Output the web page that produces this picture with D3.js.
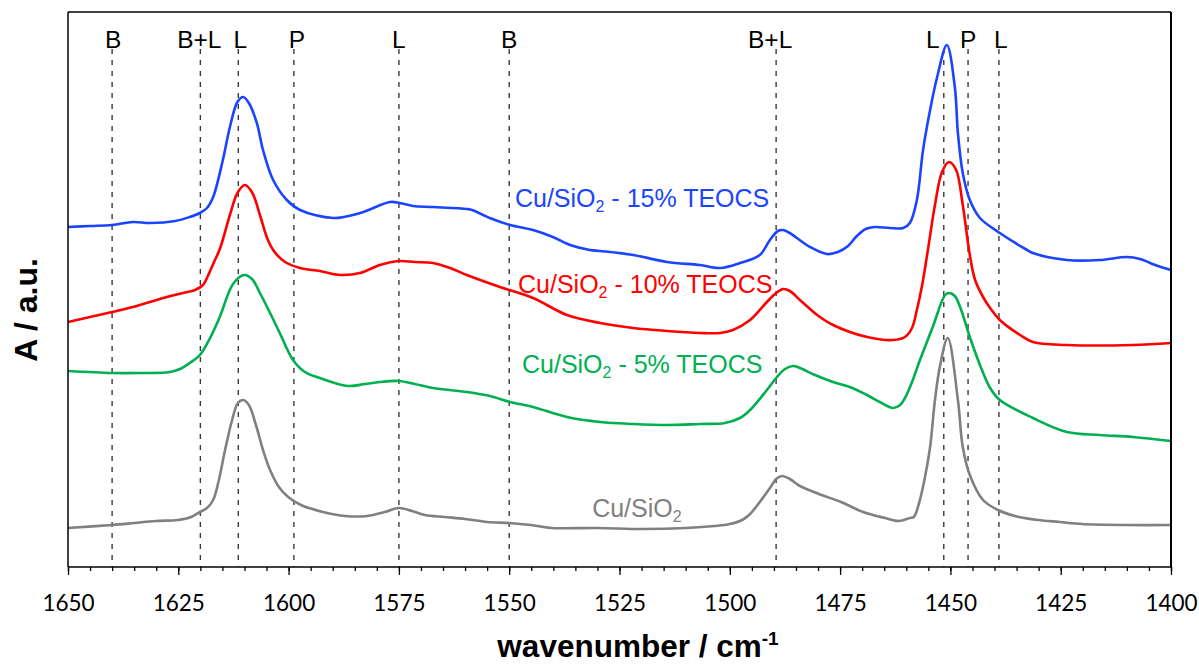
<!DOCTYPE html>
<html><head><meta charset="utf-8">
<script src="https://cdn.jsdelivr.net/npm/d3@7"></script>
<style>body{margin:0;background:#fff}svg{display:block}</style>
</head><body>
<svg id="chart" width="1199" height="666"></svg>
<script>
// ---------------- data ----------------
const seriesNames = ["Cu/SiO2 - 15% TEOCS", "Cu/SiO2 - 10% TEOCS", "Cu/SiO2 - 5% TEOCS", "Cu/SiO2"];
const labelSuffix = [" - 15% TEOCS", " - 10% TEOCS", " - 5% TEOCS", ""];

const blueWave = [1650,1645,1640,1635.3,1631.4,1625.7,1622.4,1620.1,1618.5,1617.1,1614.9,1613.3,1611.6,1610.3,1609,1607.2,1605.8,1603.5,1600.4,1597.4,1589.9,1583.8,1577,1574.8,1571.8,1567.3,1559.6,1558.4,1554.4,1549.8,1544.6,1540.1,1536.2,1531.7,1529.4,1521.9,1514.2,1506.8,1502.2,1497.7,1493.2,1490.9,1489.1,1487.9,1486.4,1484.8,1481.8,1478,1475.5,1473.2,1471.2,1469.2,1467.1,1463.7,1460.7,1459.2,1457.6,1456.2,1454.6,1453,1450.8,1449,1448.3,1447.2,1445.6,1443.3,1438.8,1432.6,1431.3,1423.6,1416.1,1410,1407,1403.6,1400];
const blueAbs = [3.40,3.41,3.42,3.45,3.44,3.46,3.50,3.54,3.59,3.70,4.07,4.40,4.65,4.70,4.64,4.44,4.17,3.87,3.67,3.57,3.49,3.54,3.65,3.64,3.61,3.60,3.58,3.57,3.49,3.42,3.37,3.30,3.22,3.17,3.16,3.12,3.05,3.02,2.99,3.04,3.12,3.27,3.36,3.37,3.34,3.29,3.20,3.13,3.15,3.21,3.31,3.38,3.40,3.39,3.39,3.44,3.67,4.17,4.57,4.90,5.22,4.80,4.34,3.94,3.67,3.49,3.34,3.17,3.14,3.07,3.07,3.10,3.08,3.02,2.97];

const redWave = [1650,1640,1635.3,1627.6,1623.9,1621.2,1619.4,1618.3,1616.9,1615.5,1613.3,1611.6,1609.9,1608.2,1606.5,1604.7,1603.5,1602.6,1600.8,1597.4,1592.9,1588.3,1583.8,1579.3,1575,1571.4,1567.3,1563.4,1559.6,1552.1,1544.6,1536.9,1529.4,1521.9,1514.2,1506.8,1502.2,1499.3,1495.4,1491.6,1489.5,1487.9,1486.4,1484.1,1480.2,1476.6,1468.9,1463,1460.3,1458.7,1457.6,1456.4,1455.1,1453.5,1451.9,1450.3,1448.7,1447.2,1445.6,1444.4,1442.6,1441,1438.8,1434.2,1431.3,1423.6,1408.6,1400];
const redAbs = [2.45,2.55,2.60,2.70,2.74,2.77,2.82,2.91,3.05,3.19,3.52,3.74,3.82,3.74,3.52,3.27,3.17,3.12,3.05,2.99,2.96,2.92,2.94,3.02,3.06,3.05,3.04,2.99,2.92,2.80,2.69,2.52,2.44,2.39,2.36,2.34,2.34,2.37,2.47,2.65,2.74,2.78,2.76,2.67,2.52,2.42,2.30,2.27,2.30,2.39,2.57,2.82,3.17,3.62,3.95,4.05,3.97,3.62,3.12,2.87,2.70,2.59,2.47,2.32,2.25,2.22,2.22,2.24];

const greenWave = [1650,1640,1633.7,1626.9,1624.6,1622.4,1620.1,1617.8,1615.6,1612.6,1610.1,1608.3,1606.5,1604.2,1602,1599,1596.3,1592.9,1586.5,1582.7,1579.3,1575,1571.4,1567.3,1559.6,1554.4,1549.8,1544.6,1536.9,1529.4,1521.9,1514.2,1506.8,1501.1,1497.7,1495.4,1491.6,1489.5,1487.5,1485.7,1484.1,1480.7,1476.6,1472.8,1468.9,1466,1463,1461.4,1460.3,1458.7,1456.9,1454,1451.2,1450.3,1449,1447.8,1445.6,1443.3,1441,1438.8,1431.3,1423.6,1416.1,1408.6,1400];
const greenAbs = [1.96,1.94,1.94,1.95,1.98,2.04,2.12,2.29,2.50,2.83,2.92,2.88,2.74,2.54,2.34,2.07,1.95,1.89,1.81,1.83,1.85,1.86,1.83,1.79,1.75,1.71,1.65,1.60,1.50,1.45,1.43,1.42,1.43,1.44,1.49,1.57,1.77,1.89,1.98,2.01,1.99,1.92,1.85,1.80,1.72,1.65,1.59,1.62,1.69,1.85,2.07,2.40,2.72,2.74,2.71,2.60,2.30,2.02,1.79,1.67,1.49,1.35,1.32,1.30,1.26];

const grayWave = [1650,1640,1635,1630.1,1625.1,1622.1,1620.1,1618.5,1617.1,1615.8,1614.4,1612.8,1611.5,1610.3,1609,1607.4,1605.8,1604.2,1602.2,1600.1,1597.2,1592.2,1587.2,1582.2,1578.2,1575,1572,1569.1,1564.6,1560,1555,1550,1545.1,1540.3,1530,1519.9,1509.9,1503.4,1500,1497.2,1495.4,1493.2,1490.9,1489.5,1488.2,1486.4,1484.1,1479.8,1474.8,1469.8,1464.8,1461.7,1459.2,1458.3,1457.1,1455.8,1454.6,1453.5,1452.4,1450.6,1448.3,1447.2,1445.6,1442.6,1439.2,1435.4,1430.1,1425.2,1420.2,1410,1400];
const grayAbs = [0.39,0.42,0.44,0.46,0.47,0.50,0.55,0.59,0.67,0.87,1.17,1.47,1.64,1.67,1.62,1.42,1.17,0.97,0.80,0.70,0.62,0.55,0.51,0.51,0.55,0.59,0.56,0.52,0.50,0.48,0.45,0.44,0.42,0.39,0.39,0.38,0.39,0.41,0.43,0.47,0.53,0.65,0.79,0.88,0.91,0.88,0.81,0.73,0.65,0.55,0.49,0.46,0.49,0.50,0.64,0.89,1.20,1.67,2.00,2.29,1.67,1.20,0.92,0.67,0.57,0.51,0.47,0.45,0.43,0.42,0.42];

const bandWave = [1640,1620,1611.4,1598.8,1575,1550,1489.5,1451.5,1446,1439];
const bandLabels = ["B","B+L","L","P","L","B","B+L","L","P","L"];

const xTicks = [1650,1625,1600,1575,1550,1525,1500,1475,1450,1425,1400];

// ---------------- layout ----------------
const svg = d3.select("#chart");
const m = {left:68, right:1171, top:12, bottom:567};
const x = d3.scaleLinear().domain([1650,1400]).range([m.left, m.right]);
const y = d3.scaleLinear().domain([0,5.55]).range([m.bottom, m.top]);

const colors = ["#1a44ff","#ff0000","#00b050","#808080"];
const series = [
  {wave: blueWave, abs: blueAbs},
  {wave: redWave, abs: redAbs},
  {wave: greenWave, abs: greenAbs},
  {wave: grayWave, abs: grayAbs}
];

// dashed band lines
const labelDx = [1,-1,2,3,0,0,-6,-11,0,2];
svg.append("g").selectAll("line").data(bandWave).join("line")
  .attr("x1", d => x(d)).attr("x2", d => x(d))
  .attr("y1", 49).attr("y2", m.bottom)
  .attr("stroke", "#3a3a3a").attr("stroke-width", 1.4)
  .attr("stroke-dasharray", "5,6");

svg.append("g").selectAll("text").data(bandWave).join("text")
  .attr("x", (d,i) => x(d) + labelDx[i]).attr("y", 48)
  .attr("text-anchor", "middle")
  .attr("font-family", "'Liberation Sans', Arial, sans-serif")
  .attr("font-size", 24.5).attr("fill", "#000")
  .text((d,i) => bandLabels[i]);

// curves
const line = d3.line().curve(d3.curveCatmullRom.alpha(0.5));
series.forEach((s, i) => {
  const pts = s.wave.map((w, j) => [x(w), y(s.abs[j])]);
  svg.append("path").attr("d", line(pts))
    .attr("fill", "none").attr("stroke", colors[i])
    .attr("stroke-width", 2.6).attr("stroke-linejoin", "round");
});

// series labels
const labelAt = [[1548.7,3.60],[1548.0,2.74],[1547.1,1.94],[1531.2,0.50]];
seriesNames.forEach((n, i) => {
  const t = svg.append("text")
    .attr("x", x(labelAt[i][0])).attr("y", y(labelAt[i][1]))
    .attr("font-family", "'Liberation Sans', Arial, sans-serif")
    .attr("font-size", 25).attr("fill", colors[i]);
  t.append("tspan").text("Cu/SiO");
  t.append("tspan").attr("font-size", 16).attr("dy", 5).text("2");
  if (labelSuffix[i]) t.append("tspan").attr("dy", -5).text(labelSuffix[i]);
});

// axes
const gMinor = svg.append("g").attr("transform", `translate(0,${m.bottom})`)
  .call(d3.axisBottom(x).tickValues(d3.range(1400,1651,5)).tickSize(4).tickFormat(""));
gMinor.select(".domain").remove();
gMinor.selectAll("line").attr("stroke","#000").attr("stroke-width",1.3);

const gMajor = svg.append("g").attr("transform", `translate(0,${m.bottom})`)
  .call(d3.axisBottom(x).tickValues(xTicks).tickSize(8).tickFormat(d3.format("d")));
gMajor.select(".domain").remove();
gMajor.selectAll("line").attr("stroke","#000").attr("stroke-width",1.3);
gMajor.selectAll("text").attr("y", 44).attr("dy", null)
  .attr("font-family", "Lato, 'Open Sans', sans-serif").attr("font-size", 22.5)
  .attr("fill", "#000");

// frame
svg.append("line").attr("x1", m.left).attr("x2", m.right).attr("y1", m.bottom).attr("y2", m.bottom).attr("stroke","#000").attr("stroke-width",1.6);
svg.append("line").attr("x1", m.left).attr("x2", m.left).attr("y1", m.top).attr("y2", m.bottom).attr("stroke","#000").attr("stroke-width",1.5);
svg.append("line").attr("x1", m.left).attr("x2", m.right).attr("y1", m.top).attr("y2", m.top).attr("stroke","#000").attr("stroke-width",1.3);
svg.append("line").attr("x1", m.right).attr("x2", m.right).attr("y1", m.top).attr("y2", m.bottom).attr("stroke","#000").attr("stroke-width",2);

// axis titles
const xt = svg.append("text").attr("x", 638).attr("y", 657).attr("text-anchor","middle")
  .attr("font-family", "'Liberation Sans', Arial, sans-serif").attr("font-weight","bold")
  .attr("font-size", 31.5).attr("fill","#000");
xt.append("tspan").text("wavenumber / cm");
xt.append("tspan").attr("font-size", 19).attr("dy", -12).text("-1");

svg.append("text").attr("transform","translate(37,310) rotate(-90)")
  .attr("text-anchor","middle")
  .attr("font-family", "'Liberation Sans', Arial, sans-serif").attr("font-weight","bold")
  .attr("font-size", 32).attr("fill","#000").text("A / a.u.");
</script>
</body></html>
